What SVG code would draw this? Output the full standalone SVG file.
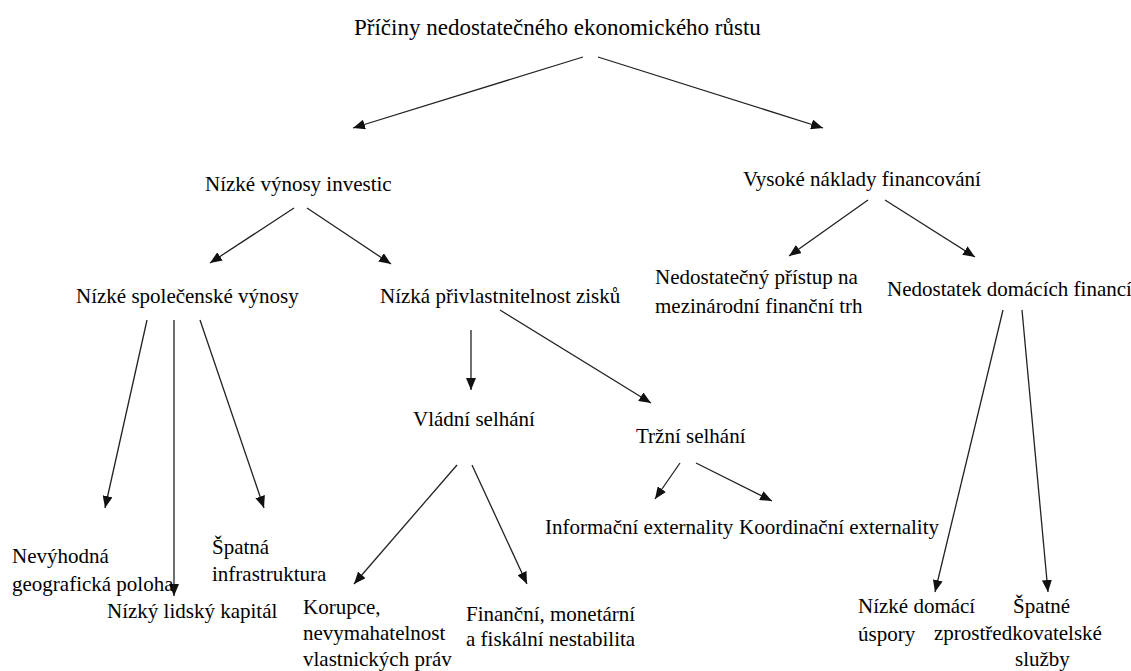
<svg xmlns="http://www.w3.org/2000/svg" width="1131" height="671" viewBox="0 0 1131 671">
<defs>
<marker id="ah" viewBox="0 0 12 10" refX="12" refY="5" markerWidth="12" markerHeight="10" markerUnits="userSpaceOnUse" orient="auto">
<path d="M0,0 L12,5 L0,10 Z" fill="#111"/>
</marker>
</defs>
<rect width="1131" height="671" fill="#fff"/>
<g id="edges" stroke="#222" stroke-width="1.3" marker-end="url(#ah)">
<line x1="583" y1="57" x2="353" y2="128"/>
<line x1="598" y1="57" x2="823" y2="128"/>
<line x1="294" y1="208" x2="210" y2="263"/>
<line x1="307" y1="208" x2="391" y2="264"/>
<line x1="868" y1="200" x2="789" y2="256"/>
<line x1="885" y1="200" x2="975" y2="257"/>
<line x1="147" y1="320" x2="105" y2="508"/>
<line x1="174" y1="320" x2="174" y2="596"/>
<line x1="200" y1="320" x2="264" y2="508"/>
<line x1="471" y1="330" x2="471" y2="390"/>
<line x1="500" y1="310" x2="651" y2="403"/>
<line x1="457" y1="465" x2="354" y2="584"/>
<line x1="472" y1="465" x2="527" y2="584"/>
<line x1="680" y1="463" x2="655" y2="499"/>
<line x1="696" y1="463" x2="772" y2="501"/>
<line x1="1003" y1="310" x2="935" y2="592"/>
<line x1="1022" y1="310" x2="1048" y2="592"/>
</g>
<g id="root"><text font-family="Times New Roman" font-size="23" x="354" y="35">Příčiny nedostatečného ekonomického růstu</text></g>
<g id="n-vynosy"><text font-family="Times New Roman" font-size="21" x="205" y="191">Nízké výnosy investic</text></g>
<g id="n-naklady"><text font-family="Times New Roman" font-size="21" x="743" y="186">Vysoké náklady financování</text></g>
<g id="n-spolecenske"><text font-family="Times New Roman" font-size="21" x="76" y="303">Nízké společenské výnosy</text></g>
<g id="n-privlastnitelnost"><text font-family="Times New Roman" font-size="21" x="380" y="303">Nízká přivlastnitelnost zisků</text></g>
<g id="n-pristup"><text font-family="Times New Roman" font-size="21" x="655" y="284">Nedostatečný přístup na</text><text font-family="Times New Roman" font-size="21" x="655" y="313">mezinárodní finanční trh</text></g>
<g id="n-domaci"><text font-family="Times New Roman" font-size="21" x="887" y="296">Nedostatek domácích financí</text></g>
<g id="n-vladni"><text font-family="Times New Roman" font-size="21" x="413" y="426">Vládní selhání</text></g>
<g id="n-trzni"><text font-family="Times New Roman" font-size="21" x="636" y="443">Tržní selhání</text></g>
<g id="n-informacni"><text font-family="Times New Roman" font-size="21" x="545" y="534">Informační externality</text></g>
<g id="n-koordinacni"><text font-family="Times New Roman" font-size="21" x="739" y="534">Koordinační externality</text></g>
<g id="n-poloha"><text font-family="Times New Roman" font-size="21" x="12" y="563">Nevýhodná</text><text font-family="Times New Roman" font-size="21" x="12" y="591">geografická poloha</text></g>
<g id="n-infra"><text font-family="Times New Roman" font-size="21" x="212" y="554">Špatná</text><text font-family="Times New Roman" font-size="21" x="212" y="581">infrastruktura</text></g>
<g id="n-kapital"><text font-family="Times New Roman" font-size="21" x="107" y="618">Nízký lidský kapitál</text></g>
<g id="n-korupce"><text font-family="Times New Roman" font-size="21" x="303" y="614">Korupce,</text><text font-family="Times New Roman" font-size="21" x="303" y="640">nevymahatelnost</text><text font-family="Times New Roman" font-size="21" x="303" y="666">vlastnických práv</text></g>
<g id="n-nestabilita"><text font-family="Times New Roman" font-size="21" x="466" y="621">Finanční, monetární</text><text font-family="Times New Roman" font-size="21" x="466" y="646">a fiskální nestabilita</text></g>
<g id="n-uspory"><text font-family="Times New Roman" font-size="21" x="858" y="613">Nízké domácí</text><text font-family="Times New Roman" font-size="21" x="858" y="641">úspory</text></g>
<g id="n-sluzby"><text font-family="Times New Roman" font-size="21" x="1013" y="613">Špatné</text><text font-family="Times New Roman" font-size="21" x="934" y="640">zprostředkovatelské</text><text font-family="Times New Roman" font-size="21" x="1015" y="666">služby</text></g>
</svg>
